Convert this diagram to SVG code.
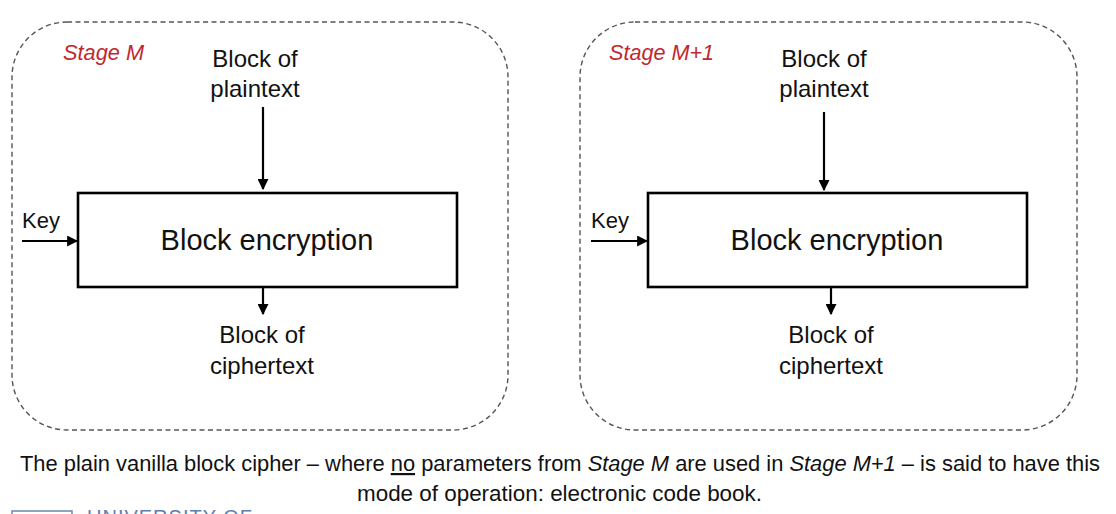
<svg xmlns="http://www.w3.org/2000/svg" width="1116" height="514" viewBox="0 0 1116 514">
<style>
text{font-family:"Liberation Sans",Arial,sans-serif;fill:#111}
.lbl{font-size:24px;text-anchor:middle}
.big{font-size:29px;text-anchor:middle}
.key{font-size:22px}
.stage{font-size:22px;font-style:italic;fill:#c1272d}
.stagebox{fill:none;stroke:#555;stroke-width:1.4;stroke-dasharray:5 3.5}
.block{fill:#fff;stroke:#000;stroke-width:2.6}
.conn{stroke:#000;stroke-width:2.2;fill:none;marker-end:url(#ah)}
.cap{font-size:22px}
</style>
<defs>
<marker id="ah" viewBox="0 0 10 10" refX="9" refY="5" markerWidth="5" markerHeight="5" orient="auto" markerUnits="strokeWidth">
<path d="M0,0 L10,5 L0,10 z" fill="#000"/>
</marker>
</defs>
<rect width="1116" height="514" fill="#fff"/>

<g id="stageM">
<rect class="stagebox" x="12" y="22" width="496" height="408" rx="55" ry="55"/>
<text class="stage" x="63" y="60" textLength="81" lengthAdjust="spacingAndGlyphs">Stage M</text>
</g>
<g id="stageM1">
<rect class="stagebox" x="580" y="22" width="497" height="408" rx="55" ry="55"/>
<text class="stage" x="609" y="60" textLength="105" lengthAdjust="spacingAndGlyphs">Stage M+1</text>
</g>

<g id="plainM"><text class="lbl" x="255" y="67">Block of</text><text class="lbl" x="255" y="97">plaintext</text></g>
<g id="encM"><rect class="block" x="78" y="193" width="379" height="94"/><text class="big" x="267" y="250">Block encryption</text></g>
<g id="keyM"><text class="key" x="22" y="228">Key</text></g>
<g id="cipherM"><text class="lbl" x="262" y="343">Block of</text><text class="lbl" x="262" y="374">ciphertext</text></g>

<g id="plainM1"><text class="lbl" x="824" y="67">Block of</text><text class="lbl" x="824" y="97">plaintext</text></g>
<g id="encM1"><rect class="block" x="648" y="193" width="379" height="94"/><text class="big" x="837" y="250">Block encryption</text></g>
<g id="keyM1"><text class="key" x="591" y="228">Key</text></g>
<g id="cipherM1"><text class="lbl" x="831" y="343">Block of</text><text class="lbl" x="831" y="374">ciphertext</text></g>

<g id="connectors">
<line class="conn" x1="263" y1="107" x2="263" y2="189"/>
<line class="conn" x1="22" y1="241" x2="77" y2="241"/>
<line class="conn" x1="263" y1="288" x2="263" y2="314"/>
<line class="conn" x1="824" y1="112" x2="824" y2="190"/>
<line class="conn" x1="591" y1="241" x2="647" y2="241"/>
<line class="conn" x1="831" y1="288" x2="831" y2="314"/>
</g>

<g id="caption">
<text class="cap" x="20" y="471" textLength="1080" lengthAdjust="spacingAndGlyphs">The plain vanilla block cipher – where <tspan text-decoration="underline">no</tspan> parameters from <tspan font-style="italic">Stage M</tspan> are used in <tspan font-style="italic">Stage M+1</tspan> –  is said to have this</text>
<text class="cap" x="357" y="501" textLength="405" lengthAdjust="spacingAndGlyphs">mode of operation: electronic code book.</text>
</g>

<g id="footer">
<rect x="12" y="511" width="60" height="10" fill="none" stroke="#6a86b0" stroke-width="1.5"/>
<text x="87" y="524" style="font-size:20px;fill:#5f7fae;letter-spacing:1px">UNIVERSITY OF</text>
</g>
</svg>
